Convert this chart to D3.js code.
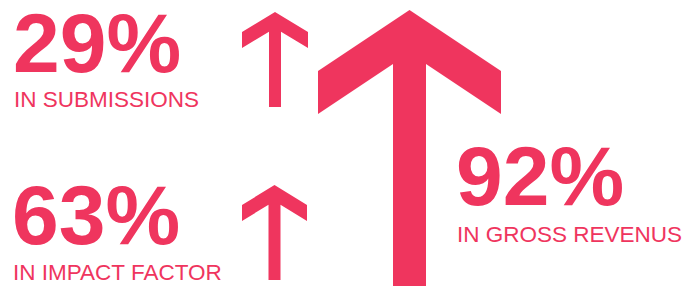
<!DOCTYPE html>
<html>
    <head>
        <style>
            body { margin: 0; background: #fff; }
            text { font-family: "Liberation Sans", Arial, Helvetica, sans-serif; }
        </style>
    </head>
    <body>
        <svg></svg>

        <script src="https://d3js.org/d3.v7.min.js"></script>

        <script>
            // figures shown on the graphic
            const values = [29, 63, 92];
            const labels = ["IN SUBMISSIONS", "IN IMPACT FACTOR", "IN GROSS REVENUS"];

            const width = 697,
                height = 286,
                red = "#ef355e";

            // where each block sits (text origin + arrow box)
            const layout = [
                { tx: 13, ty: 72, ly: 107, arrow: { cx: 275, top: 12, hw: 33, wing: 20, wingH: 16, sw: 6, bottom: 107 } },
                { tx: 12, ty: 244, ly: 280, arrow: { cx: 274.5, top: 185, hw: 32.5, wing: 20, wingH: 16, sw: 6, bottom: 280 } },
                { tx: 456, ty: 205, ly: 242, arrow: { cx: 409.5, top: 10, hw: 91.5, wing: 61, wingH: 43, sw: 16.5, bottom: 286 } }
            ];

            const svg = d3.select("svg")
                        .attr("width", width)
                        .attr("height", height);

            // arrow outline: tip, wings, shaft
            function arrowPath(a) {
                const slope = a.wing / a.hw;
                const wy1 = a.top + a.wing,
                    wy2 = wy1 + a.wingH,
                    jy = wy2 - slope * (a.hw - a.sw);
                const p = d3.path();
                p.moveTo(a.cx, a.top);
                p.lineTo(a.cx + a.hw, wy1);
                p.lineTo(a.cx + a.hw, wy2);
                p.lineTo(a.cx + a.sw, jy);
                p.lineTo(a.cx + a.sw, a.bottom);
                p.lineTo(a.cx - a.sw, a.bottom);
                p.lineTo(a.cx - a.sw, jy);
                p.lineTo(a.cx - a.hw, wy2);
                p.lineTo(a.cx - a.hw, wy1);
                p.closePath();
                return p.toString();
            }

            const g = svg.selectAll("g")
                        .data(values)
                        .enter()
                        .append("g");

            g.append("path")
            .attr("d", function(d, i) { return arrowPath(layout[i].arrow); })
            .attr("fill", red);

            g.append("text")
            .attr("x", function(d, i) { return layout[i].tx; })
            .attr("y", function(d, i) { return layout[i].ty; })
            .attr("fill", red)
            .attr("font-size", 84)
            .attr("font-weight", "bold")
            .text(function(d) { return d + "%"; });

            g.append("text")
            .attr("x", function(d, i) { return layout[i].tx + 1; })
            .attr("y", function(d, i) { return layout[i].ly; })
            .attr("fill", red)
            .attr("font-size", 22.5)
            .text(function(d, i) { return labels[i]; });

        </script>
    </body>
</html>
